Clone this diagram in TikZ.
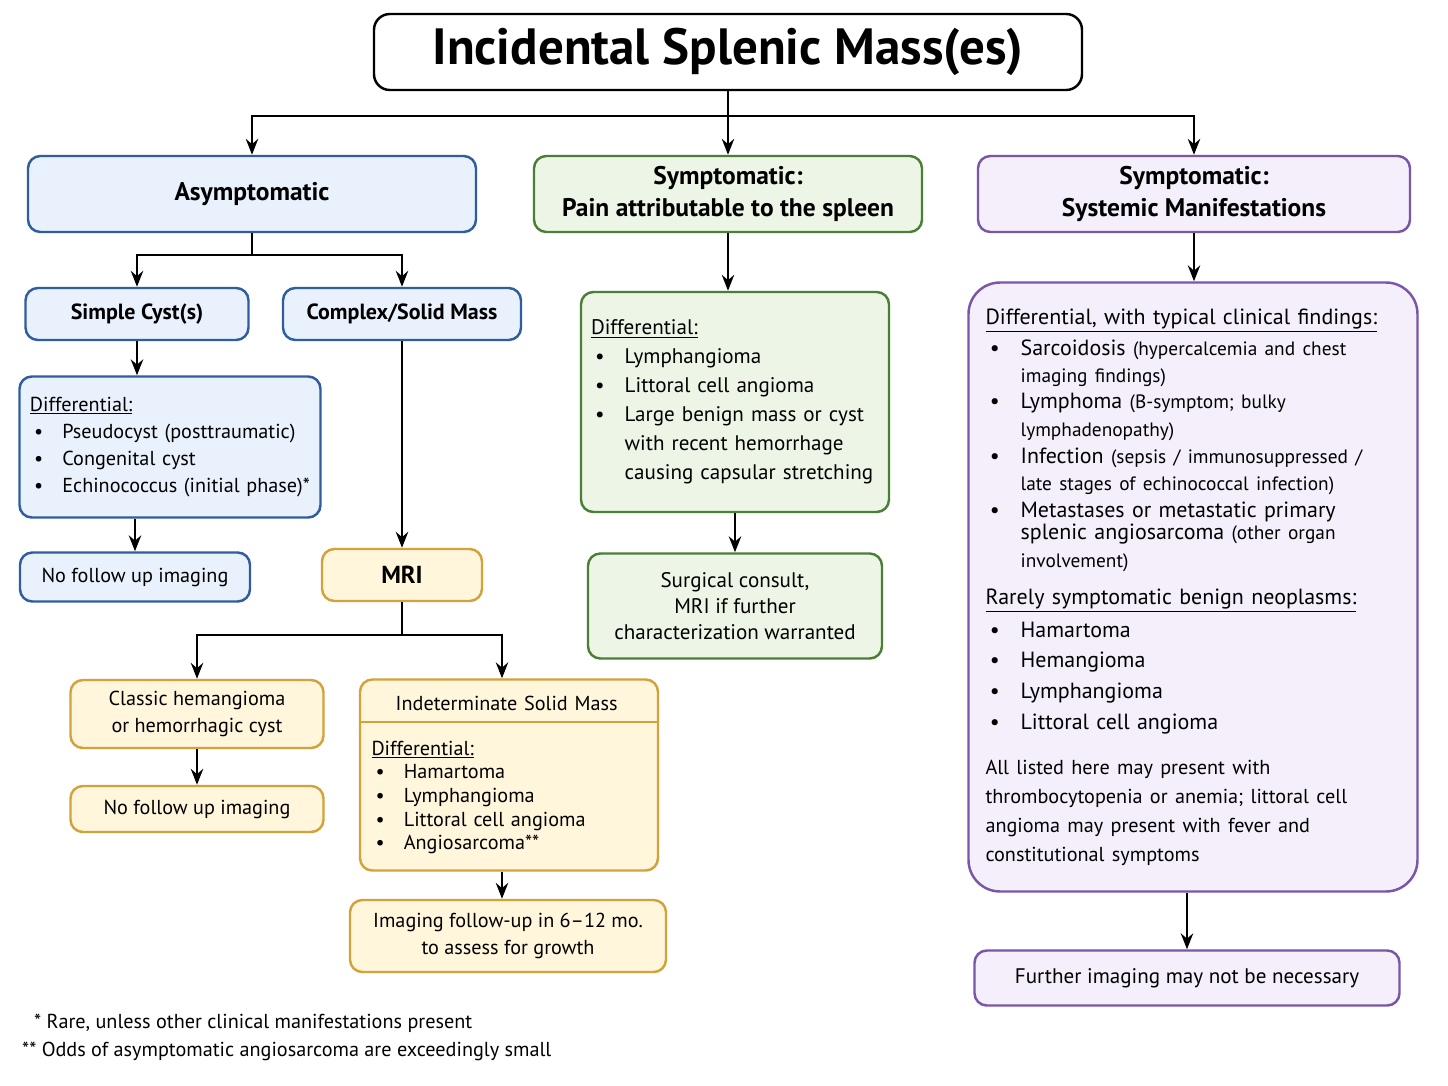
\documentclass[tikz,border=0pt]{standalone}
\usepackage{fontspec}
\setmainfont{PT Sans}
\usetikzlibrary{arrows.meta}
\definecolor{bluefill}{HTML}{E8F1FC}
\definecolor{blueline}{HTML}{2F5D9E}
\definecolor{greenfill}{HTML}{EDF6E6}
\definecolor{greenline}{HTML}{4C7F36}
\definecolor{yellowfill}{HTML}{FFF6DC}
\definecolor{yellowline}{HTML}{D3A23A}
\definecolor{purplefill}{HTML}{F4EFFA}
\definecolor{purpleline}{HTML}{7A56A8}
\newcommand\itm[1]{\par\noindent\hbox to 1.6em{\hspace{0.2em}\textbullet\hfil}\parbox[t]{\dimexpr\linewidth-1.6em}{\raggedright #1}}
\newcommand\hd[1]{\underline{#1}}
\newcommand\bg{\fontsize{12.5}{15.5}\selectfont}
\newcommand\sm{\fontsize{11}{13}\selectfont}
\begin{document}
\begin{tikzpicture}[x=0.02cm,y=-0.02cm,
  box/.style={draw,line width=1.4pt,rounded corners=7pt,align=center,inner sep=4pt,
    font=\fontsize{11.5}{15.5}\selectfont},
  bluebox/.style={box,draw=blueline,fill=bluefill},
  greenbox/.style={box,draw=greenline,fill=greenfill},
  yellowbox/.style={box,draw=yellowline,fill=yellowfill},
  purplebox/.style={box,draw=purpleline,fill=purplefill},
  arr/.style={-{Stealth[length=9pt,width=7pt]},line width=1.4pt}]
\useasboundingbox (0,0) rectangle (1448,1086);
\fill[white] (0,0) rectangle (1448,1086);

% top level
\node[box,fill=white,minimum width={708*0.02cm},minimum height={76*0.02cm},rounded corners=9pt,
  font=\fontsize{29}{32}\selectfont\bfseries] (title) at (728,52) {Incidental Splenic Mass(es)};
\node[bluebox,minimum width={448*0.02cm},minimum height={76*0.02cm},font=\fontsize{14.5}{18}\selectfont\bfseries]
  (asym) at (252,194) {Asymptomatic};
\node[greenbox,minimum width={388*0.02cm},minimum height={76*0.02cm},font=\fontsize{14.5}{18}\selectfont\bfseries]
  (pain) at (728,194) {Symptomatic:\\Pain attributable to the spleen};
\node[purplebox,minimum width={432*0.02cm},minimum height={76*0.02cm},font=\fontsize{14.5}{18}\selectfont\bfseries]
  (sys) at (1194,194) {Symptomatic:\\Systemic Manifestations};

% asymptomatic branch
\node[bluebox,minimum width={223*0.02cm},minimum height={52*0.02cm},font=\fontsize{12.5}{16}\selectfont\bfseries]
  (simple) at (137,314) {Simple Cyst(s)};
\node[bluebox,minimum width={238*0.02cm},minimum height={52*0.02cm},font=\fontsize{12.5}{16}\selectfont\bfseries]
  (complex) at (402,314) {Complex/Solid Mass};
\node[bluebox,minimum width={301*0.02cm},minimum height={141*0.02cm},align=left,text width={280*0.02cm}]
  (diffa) at (170,447) {\hd{Differential:}\itm{Pseudocyst (posttraumatic)}\itm{Congenital cyst}\itm{Echinococcus (initial phase)*}};
\node[bluebox,minimum width={230*0.02cm},minimum height={49*0.02cm}] (nofua) at (135,577) {No follow up imaging};
\node[yellowbox,minimum width={160*0.02cm},minimum height={52*0.02cm},font=\fontsize{14}{16}\selectfont\bfseries]
  (mri) at (402,575) {MRI};
\node[yellowbox,minimum width={253*0.02cm},minimum height={68*0.02cm}] (classic) at (197,714)
  {Classic hemangioma\\or hemorrhagic cyst};
\node[yellowbox,minimum width={253*0.02cm},minimum height={46*0.02cm}] (nofub) at (197,809) {No follow up imaging};
\node[yellowbox,minimum width={298*0.02cm},minimum height={191*0.02cm},align=left,text width={275*0.02cm},
  font=\fontsize{11.5}{13.5}\selectfont]
  (indet) at (509,775) {\hspace*{1.2em}Indeterminate Solid Mass\par\vspace{12pt}\hd{Differential:}\itm{Hamartoma}\itm{Lymphangioma}\itm{Littoral cell angioma}\itm{Angiosarcoma**}};
\draw[yellowline,line width=1.4pt] (indet.west |- 0,722) -- (indet.east |- 0,722);
\node[yellowbox,minimum width={316*0.02cm},minimum height={72*0.02cm}] (follow) at (508,936)
  {Imaging follow-up in 6--12 mo.\\to assess for growth};

% pain branch
\node[greenbox,minimum width={308*0.02cm},minimum height={220*0.02cm},align=left,text width={288*0.02cm},
  font=\fontsize{12}{16.5}\selectfont]
  (diffp) at (735,402) {\hd{Differential:}\itm{Lymphangioma}\itm{Littoral cell angioma}\itm{Large benign mass or cyst\\with recent hemorrhage\\causing capsular stretching}};
\node[greenbox,minimum width={294*0.02cm},minimum height={105*0.02cm},font=\fontsize{12}{15}\selectfont] (surg) at (735,606)
  {Surgical consult,\\MRI if further\\characterization warranted};

% systemic branch
\node[purplebox,rounded corners=18pt,minimum width={449*0.02cm},minimum height={609*0.02cm},align=left,
  text width={415*0.02cm},font=\bg] (diffs) at (1193,587)
  {\hd{Differential, with typical clinical findings:}\par\vspace{2pt}
   \itm{Sarcoidosis {\sm(hypercalcemia and chest\\imaging findings)}}\par\vspace{3pt}
   \itm{Lymphoma {\sm(B-symptom; bulky\\lymphadenopathy)}}\par\vspace{3pt}
   \itm{Infection {\sm(sepsis / immunosuppressed /\\late stages of echinococcal infection)}}\par\vspace{3pt}
   \itm{Metastases or metastatic primary\\splenic angiosarcoma {\sm(other organ\\involvement)}}
   \par\vspace{9pt}\noindent\hd{Rarely symptomatic benign neoplasms:}\par\vspace{3pt}
   \itm{Hamartoma}\par\vspace{2pt}\itm{Hemangioma}\par\vspace{2pt}\itm{Lymphangioma}\par\vspace{2pt}\itm{Littoral cell angioma}
   \par\vspace{9pt}\noindent{\fontsize{11.5}{16.5}\selectfont All listed here may present with\\thrombocytopenia or anemia; littoral cell\\angioma may present with fever and\\constitutional symptoms\par}};
\node[purplebox,minimum width={425*0.02cm},minimum height={55*0.02cm},font=\fontsize{12}{15}\selectfont] (further) at (1187,978)
  {Further imaging may not be necessary};

% footnotes
\node[anchor=west,font=\fontsize{11.5}{14}\selectfont] (fn1) at (28,1023) {* Rare, unless other clinical manifestations present};
\node[anchor=west,font=\fontsize{11.5}{14}\selectfont] (fn2) at (16,1051) {** Odds of asymptomatic angiosarcoma are exceedingly small};

% connectors
\coordinate (tsplit) at (728,116);
\draw[line width=1.4pt] (title.south) -- (tsplit);
\draw[arr] (tsplit) -| (asym.north);
\draw[arr] (tsplit) -- (pain.north);
\draw[arr] (tsplit) -| (sys.north);
\coordinate (asplit) at (252,255);
\draw[line width=1.4pt] (asym.south) -- (asplit);
\draw[arr] (asplit) -| (simple.north);
\draw[arr] (asplit) -| (complex.north);
\draw[arr] (simple.south) -- (simple.south |- diffa.north);
\draw[arr] (diffa.south -| nofua.north) -- (nofua.north);
\draw[arr] (complex.south) -- (mri.north);
\coordinate (msplit) at (402,635);
\draw[line width=1.4pt] (mri.south) -- (msplit);
\draw[arr] (msplit) -| (classic.north);
\draw[arr] (msplit) -| ([xshift=-7*0.02cm]indet.north);
\draw[arr] (classic.south) -- (nofub.north);
\draw[arr] ([xshift=-7*0.02cm]indet.south) -- ([xshift=-7*0.02cm]indet.south |- follow.north);
\draw[arr] (pain.south) -- (pain.south |- diffp.north);
\draw[arr] (diffp.south) -- (surg.north);
\draw[arr] (sys.south) -- (sys.south |- diffs.north);
\draw[arr] (diffs.south -| further.north) -- (further.north);
\end{tikzpicture}
\end{document}
